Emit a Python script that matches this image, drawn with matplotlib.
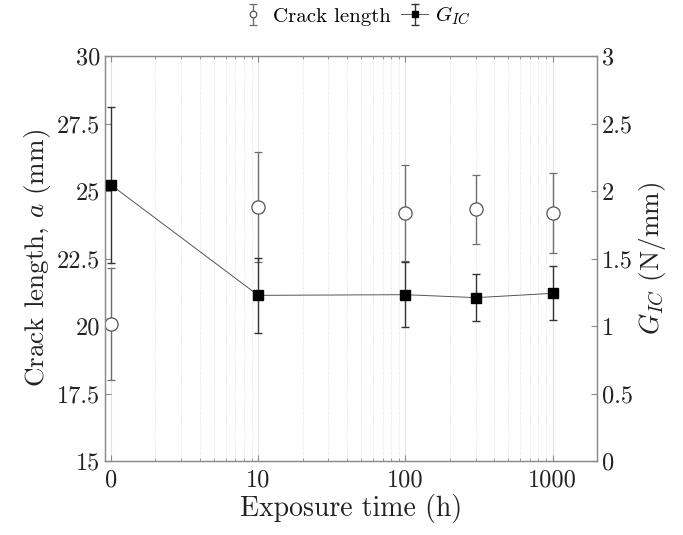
import numpy as np
import matplotlib
matplotlib.use('Agg')
import matplotlib.pyplot as plt

plt.rcParams['font.family'] = 'serif'
plt.rcParams['font.serif'] = ['cmr10']
plt.rcParams['mathtext.fontset'] = 'cm'
plt.rcParams['axes.formatter.use_mathtext'] = True

# data
exposure = np.array([0, 10, 100, 300, 1000])          # h
crack_len = np.array([20.07, 24.40, 24.19, 24.32, 24.19])   # mm
crack_err = np.array([2.07, 2.03, 1.78, 1.28, 1.48])
g_ic = np.array([2.045, 1.227, 1.232, 1.210, 1.242])         # N/mm
g_err = np.array([0.58, 0.277, 0.24, 0.175, 0.20])

xtick_vals = [0, 10, 100, 1000]
xtick_labels = ['0', '10', '100', '1000']

# 0 h is drawn at 1 on the log axis
x_plot = np.where(exposure == 0, 1, exposure)
xt_plot = [1 if v == 0 else v for v in xtick_vals]

fig = plt.figure(figsize=(6.83, 5.35), dpi=100)
ax = fig.add_axes([105/683, 1-461/535, (597-105)/683, (461-56)/535])
ax.set_xscale('log')
ax.set_xlim(0.91, 2000)
ax.set_ylim(15, 30)
ax.set_yticks(np.arange(15, 30.1, 2.5))
ax.set_yticklabels(['15', '17.5', '20', '22.5', '25', '27.5', '30'])
ax.set_xticks(xt_plot)
ax.set_xticklabels(xtick_labels)

ax.grid(True, which='major', axis='x', color='#e3e3e3', lw=0.8, ls='-')
ax.grid(True, which='minor', axis='x', color='#d6d6d6', lw=0.6, ls=(0, (1, 2)))
ax.set_axisbelow(True)

h1 = ax.errorbar(x_plot, crack_len, yerr=crack_err, fmt='o', mfc='w', mec='#555555',
                 ms=9.5, mew=0.9, ecolor='#6e6e6e', elinewidth=1.0, capsize=3,
                 capthick=1.0, label='Crack length', zorder=3)

ax2 = ax.twinx()
ax2.set_ylim(0, 3)
ax2.set_yticks(np.arange(0, 3.01, 0.5))
ax2.set_yticklabels(['0', '0.5', '1', '1.5', '2', '2.5', '3'])
h2 = ax2.errorbar(x_plot, g_ic, yerr=g_err, fmt='s-', color='k', mfc='k', mec='k',
                  ms=7.5, lw=0.7, ecolor='#333333', elinewidth=1.0, capsize=3,
                  capthick=1.0, label='$G_{IC}$', zorder=4)
h2[0].set_color('#555555')
h2[0].set_markerfacecolor('k')
h2[0].set_markeredgecolor('k')

for a in (ax, ax2):
    for s in a.spines.values():
        s.set_color('#8a8a8a')
        s.set_linewidth(0.9)
ax.tick_params(which='both', direction='in', top=True, right=False, colors='#8a8a8a',
               labelcolor='#222222', labelsize=17.5)
ax.tick_params(which='major', length=4)
ax.tick_params(which='minor', length=2.5)
ax.tick_params(axis='x', pad=6)
ax2.tick_params(which='both', direction='in', colors='#8a8a8a', labelcolor='#222222',
                labelsize=17.5, length=4)

ax.set_xlabel('Exposure time (h)', fontsize=20, color='#222222', labelpad=2)
ax.set_ylabel('Crack length, $a$ (mm)', fontsize=19.5, color='#222222', labelpad=3)
ax2.set_ylabel('$G_{IC}$ (N/mm)', fontsize=19.5, color='#222222', labelpad=3)

fig.legend(handles=[h1, h2], loc='center', bbox_to_anchor=(0.52, 0.97), ncol=2,
           frameon=False, fontsize=15, handlelength=1.3, columnspacing=0.5,
           handletextpad=0.3, markerscale=0.5)

fig.savefig('out.png', dpi=100)
